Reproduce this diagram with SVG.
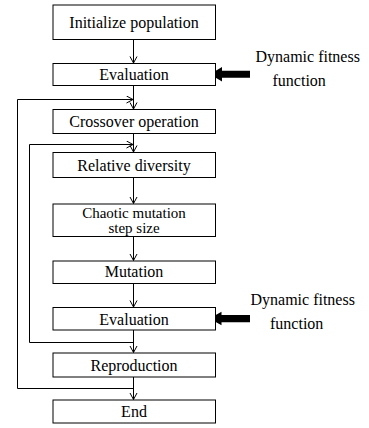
<svg xmlns="http://www.w3.org/2000/svg" width="369" height="428" viewBox="0 0 369 428">
<style>
.box{fill:#fff;stroke:#000;stroke-width:1}
.ln{fill:none;stroke:#000;stroke-width:1}
.fat{fill:#000;stroke:none}
text{font-family:'Liberation Serif','Times New Roman',serif;font-size:16px;fill:#000}
.c{text-anchor:middle}
.s{font-size:15px}
</style>
<defs>
<marker id="ah" markerUnits="userSpaceOnUse" markerWidth="10" markerHeight="10" refX="7" refY="4" orient="auto">
<polyline points="0.5,0.5 7,4 0.5,7.5" fill="none" stroke="#000" stroke-width="1"/>
</marker>
</defs>
<g id="connectors">
<line class="ln" x1="133.5" y1="39.5" x2="133.5" y2="63" marker-end="url(#ah)"/>
<line class="ln" x1="133.5" y1="85.5" x2="133.5" y2="109" marker-end="url(#ah)"/>
<line class="ln" x1="133.5" y1="133.5" x2="133.5" y2="152" marker-end="url(#ah)"/>
<line class="ln" x1="133.5" y1="177.5" x2="133.5" y2="203.5" marker-end="url(#ah)"/>
<line class="ln" x1="133.5" y1="236.5" x2="133.5" y2="260.5" marker-end="url(#ah)"/>
<line class="ln" x1="133.5" y1="283.5" x2="133.5" y2="307" marker-end="url(#ah)"/>
<line class="ln" x1="133.5" y1="330" x2="133.5" y2="352.5" marker-end="url(#ah)"/>
<line class="ln" x1="133.5" y1="377" x2="133.5" y2="399.5" marker-end="url(#ah)"/>
<polyline class="ln" points="133.5,388.5 17.5,388.5 17.5,99.5 133,99.5" marker-end="url(#ah)"/>
<polyline class="ln" points="133.5,342.5 29.5,342.5 29.5,144.5 133,144.5" marker-end="url(#ah)"/>
<polygon id="fat1" class="fat" points="210,74.3 222,67 222,70.8 250,70.8 250,77.8 222,77.8 222,81.6"/>
<polygon id="fat2" class="fat" points="209.5,318.5 221.5,311.8 221.5,315 250,315 250,322.2 221.5,322.2 221.5,325.2"/>
</g>
<g id="n1"><rect class="box" x="53" y="5" width="162.5" height="34.5"/><text class="c" x="134" y="28">Initialize population</text></g>
<g id="n2"><rect class="box" x="53" y="63.5" width="162.5" height="22"/><text class="c" x="134" y="80">Evaluation</text></g>
<g id="n3"><rect class="box" x="53" y="109.5" width="162.5" height="24"/><text class="c" x="134" y="126.5">Crossover operation</text></g>
<g id="n4"><rect class="box" x="53" y="152.5" width="162.5" height="25"/><text class="c" x="134" y="171">Relative diversity</text></g>
<g id="n5"><rect class="box" x="53" y="204" width="162.5" height="32.5"/><text class="c s" x="134" y="218">Chaotic mutation</text><text class="c s" x="134" y="233">step size</text></g>
<g id="n6"><rect class="box" x="53" y="261" width="162.5" height="22.5"/><text class="c" x="134" y="277">Mutation</text></g>
<g id="n7"><rect class="box" x="53" y="307.5" width="162.5" height="22.5"/><text class="c" x="134" y="324.5">Evaluation</text></g>
<g id="n8"><rect class="box" x="53" y="353" width="162.5" height="24"/><text class="c" x="134" y="370.5">Reproduction</text></g>
<g id="n9"><rect class="box" x="53" y="400" width="162.5" height="23"/><text class="c" x="134" y="417">End</text></g>
<g id="label1"><text x="255.5" y="61.5">Dynamic fitness</text><text x="272.5" y="86">function</text></g>
<g id="label2"><text x="250.5" y="304.5">Dynamic fitness</text><text x="270" y="328.5">function</text></g>
</svg>
